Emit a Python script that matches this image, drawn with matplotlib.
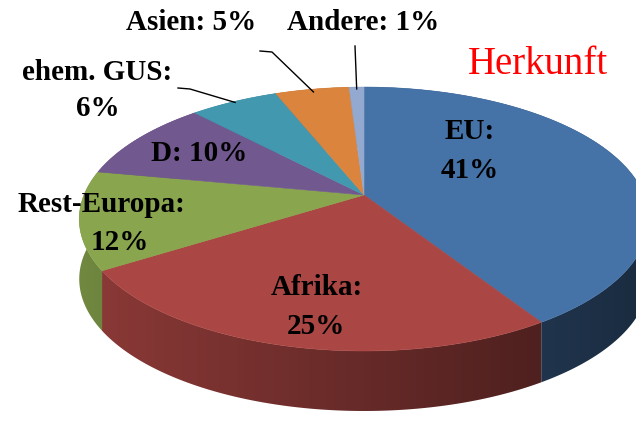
import numpy as np
import matplotlib.pyplot as plt
from matplotlib.colors import to_rgb
from matplotlib.patches import Polygon

# Herkunft shares (percent), clockwise from 12 o'clock
labels = ['EU', 'Afrika', 'Rest-Europa', 'D', 'ehem. GUS', 'Asien', 'Andere']
shares = [41, 25, 12, 10, 6, 5, 1]
colors = ['#4572A7', '#AA4643', '#89A54E', '#71588F', '#4198AF', '#DB843D', '#93A9CF']

W, H = 636, 427
fig = plt.figure(figsize=(W / 100, H / 100), dpi=100)
ax = fig.add_axes([0, 0, 1, 1])

# 3D pie geometry in pixel units (tilted disc with a bit of perspective)
cx, cy = 364, 196
rx, ry = 280, 127.6
persp = 0.182
depth = 60


def project(theta, r=1.0):
    u = r * np.sin(theta)
    w = r * np.cos(theta)
    d = 1 + persp * w
    return cx + rx * u / d, cy - ry * w / d


fracs = np.array(shares) / sum(shares)
edges = np.concatenate([[0], np.cumsum(fracs)]) * 2 * np.pi

# side wall: one polygon per slice, filled with a left-lit gradient
gx_px = np.linspace(0, W, 600)
shade = 0.60 - 0.22 * np.clip((gx_px - cx) / rx, -1, 1)
for i, col in enumerate(colors):
    base = np.array(to_rgb(col))
    ts = np.linspace(edges[i], edges[i + 1], 200)
    px, py = project(ts)
    poly = np.column_stack([np.r_[px, px[::-1]], np.r_[py, py[::-1] + depth]])
    patch = Polygon(poly, closed=True, facecolor='none', edgecolor='none')
    ax.add_patch(patch)
    img = np.clip(base[None, None, :] * shade[None, :, None], 0, 1)
    im = ax.imshow(img, extent=[0, W, H, 0], aspect='auto',
                   interpolation='bilinear', zorder=1)
    im.set_clip_path(patch)

# top face
for i, col in enumerate(colors):
    ts = np.linspace(edges[i], edges[i + 1], 200)
    px, py = project(ts)
    ax.fill(np.concatenate([[cx], px]), np.concatenate([[cy], py]),
            color=col, lw=0.4, zorder=2)

ax.set_xlim(0, W)
ax.set_ylim(H, 0)
ax.set_aspect('auto')
ax.axis('off')

font = dict(family=['Liberation Serif', 'DejaVu Serif'], fontweight='bold',
            fontsize=21, color='black', ha='center', va='center', zorder=5)

ax.text(470, 132, 'EU:', **font)
ax.text(470, 171, '41%', **font)
ax.text(317, 288, 'Afrika:', **font)
ax.text(316, 327, '25%', **font)
ax.text(102, 205, 'Rest-Europa:', **font)
ax.text(120, 243, '12%', **font)
ax.text(199, 154, 'D: 10%', **font)
ax.text(97, 72, 'ehem. GUS:', **font)
ax.text(98, 109, '6%', **font)
ax.text(191, 22, 'Asien: 5%', **font)
ax.text(363, 22, 'Andere: 1%', **font)

ax.text(538, 65, 'Herkunft', family=['Liberation Serif', 'DejaVu Serif'],
        fontsize=28, color='#FF0000', ha='center', va='center', zorder=5)

# leader lines to the small slices
mids = 0.5 * (edges[:-1] + edges[1:])
gx, gy = project(mids[4], 0.99)
ax.plot([178, 190, gx], [89, 90, gy], color='black', lw=1, zorder=4)
sx, sy = project(mids[5], 0.97)
ax.plot([260, 272, sx], [52, 53, sy], color='black', lw=1, zorder=4)
nx, ny = project(mids[6], 0.98)
ax.plot([355, nx], [47, ny], color='black', lw=1, zorder=4)

fig.savefig('out.png', dpi=100)
